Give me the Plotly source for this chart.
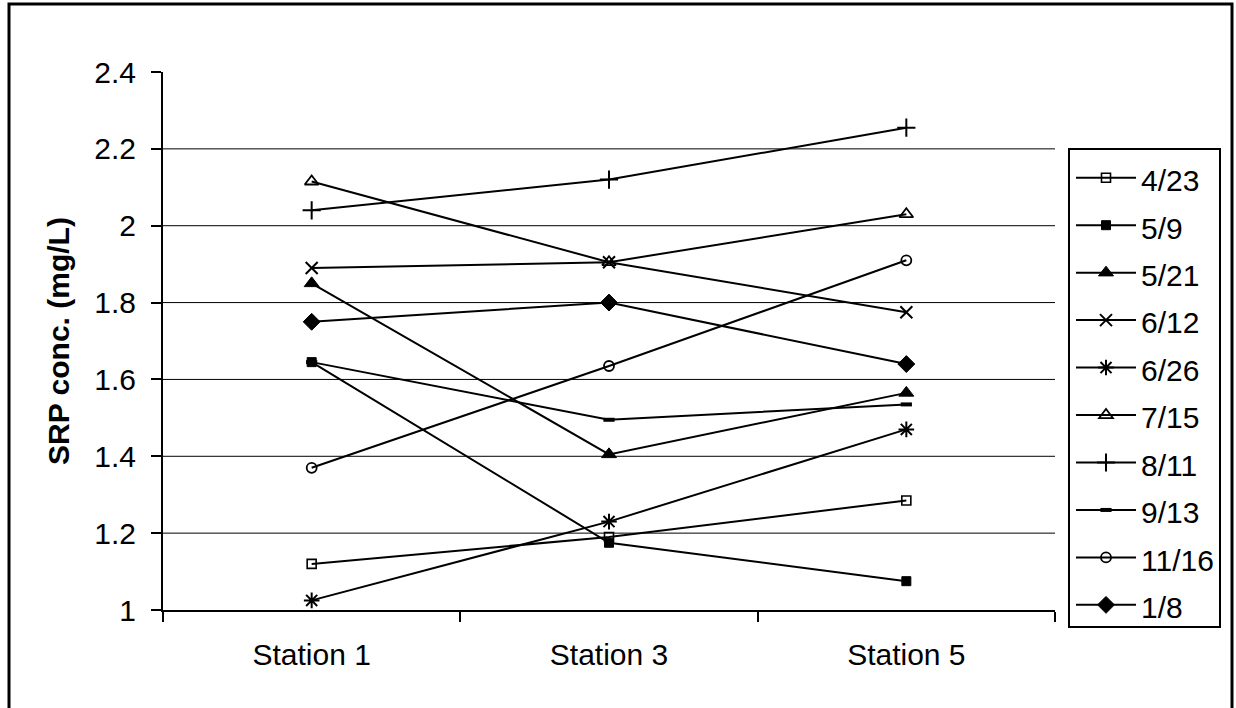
import plotly.graph_objects as go

# Sampling stations along the x axis
stations = ["Station 1", "Station 3", "Station 5"]

# SRP concentration (mg/L) per sampling date, one value per station
d_0423 = [1.12, 1.19, 1.285]
d_0509 = [1.645, 1.175, 1.075]
d_0521 = [1.85, 1.405, 1.565]
d_0612 = [1.89, 1.905, 1.775]
d_0626 = [1.025, 1.23, 1.47]
d_0715 = [2.115, 1.905, 2.03]
d_0811 = [2.04, 2.12, 2.255]
d_0913 = [1.645, 1.495, 1.535]
d_1116 = [1.37, 1.635, 1.91]
d_0108 = [1.75, 1.80, 1.64]

dates = ["4/23", "5/9", "5/21", "6/12", "6/26", "7/15", "8/11", "9/13", "11/16", "1/8"]
series = [d_0423, d_0509, d_0521, d_0612, d_0626, d_0715, d_0811, d_0913, d_1116, d_0108]

y_ticks = [1, 1.2, 1.4, 1.6, 1.8, 2, 2.2, 2.4]
y_tick_text = ["1", "1.2", "1.4", "1.6", "1.8", "2", "2.2", "2.4"]

# marker style per date: (symbol, size, outline width)
marker_styles = {
    "4/23": ("square-open", 9, 1.6),
    "5/9": ("square", 9, 1.0),
    "5/21": ("triangle-up", 13, 1.0),
    "6/12": ("x-thin-open", 12, 2.0),
    "6/26": ("asterisk-open", 13, 2.0),
    "7/15": ("triangle-up-open", 12, 1.8),
    "8/11": ("cross-thin-open", 13, 2.0),
    "9/13": ("line-ew-open", 8, 4.0),
    "11/16": ("circle-open", 10, 1.8),
    "1/8": ("diamond", 13, 1.0),
}

FONT = "Liberation Sans, Arial, sans-serif"
TEXT_SIZE = 30

fig = go.Figure()
for name, vals in zip(dates, series):
    sym, size, lw = marker_styles[name]
    fig.add_trace(go.Scatter(
        x=stations, y=vals, mode="lines+markers",
        name=f"<span style='font-size:{TEXT_SIZE}px'>{name}</span>",
        line=dict(color="black", width=2),
        marker=dict(symbol=sym, size=size, color="black",
                    line=dict(color="black", width=lw)),
    ))

# horizontal gridlines (none at the top of the axis)
shapes = []
for t in y_ticks[1:-1]:
    shapes.append(dict(type="line", xref="paper", yref="y", x0=0, x1=1, y0=t, y1=t,
                       line=dict(color="black", width=1), layer="below"))

# pixel helpers for the frames around the chart and the legend
L, T, PW, PH = 163, 72, 892, 538
def px_x(p):
    return (p - L) / PW
def px_y(p):
    return (T + PH - p) / PH

# outer chart frame
shapes.append(dict(type="rect", xref="paper", yref="paper",
                   x0=px_x(9), x1=px_x(1232), y0=px_y(714), y1=px_y(4),
                   line=dict(color="black", width=3), fillcolor="rgba(0,0,0,0)"))
# legend frame
shapes.append(dict(type="rect", xref="paper", yref="paper",
                   x0=px_x(1069), x1=px_x(1220), y0=px_y(627), y1=px_y(149),
                   line=dict(color="black", width=2), fillcolor="rgba(0,0,0,0)"))

fig.update_layout(
    width=1236, height=708,
    margin=dict(l=L, r=1236 - L - PW, t=T, b=708 - T - PH),
    paper_bgcolor="white", plot_bgcolor="white",
    font=dict(family=FONT, size=TEXT_SIZE, color="black"),
    showlegend=True,
    legend=dict(
        x=px_x(1071), y=px_y(149), xanchor="left", yanchor="top",
        borderwidth=0, bgcolor="rgba(0,0,0,0)",
        # larger base size sets the row pitch; the labels themselves use TEXT_SIZE
        font=dict(family=FONT, size=34.2, color="black"),
        itemwidth=60, tracegroupgap=0,
    ),
    shapes=shapes,
    xaxis=dict(
        type="category", range=[-0.5, 2.5], showgrid=False, zeroline=False,
        showline=True, linecolor="black", linewidth=2,
        ticks="outside", tickson="boundaries", ticklen=10, tickwidth=2, tickcolor="black",
        ticklabelstandoff=17,
        tickfont=dict(family=FONT, size=TEXT_SIZE),
    ),
    yaxis=dict(
        range=[1, 2.4], tickvals=y_ticks, ticktext=y_tick_text,
        showgrid=False, zeroline=False,
        showline=True, linecolor="black", linewidth=2,
        ticks="outside", ticklen=10, tickwidth=2, tickcolor="black",
        ticklabelstandoff=9,
        tickfont=dict(family=FONT, size=TEXT_SIZE),
        title=dict(text="<b>SRP conc. (mg/L)</b>", standoff=16,
                   font=dict(family=FONT, size=30)),
    ),
)

fig.write_html("out.html")
